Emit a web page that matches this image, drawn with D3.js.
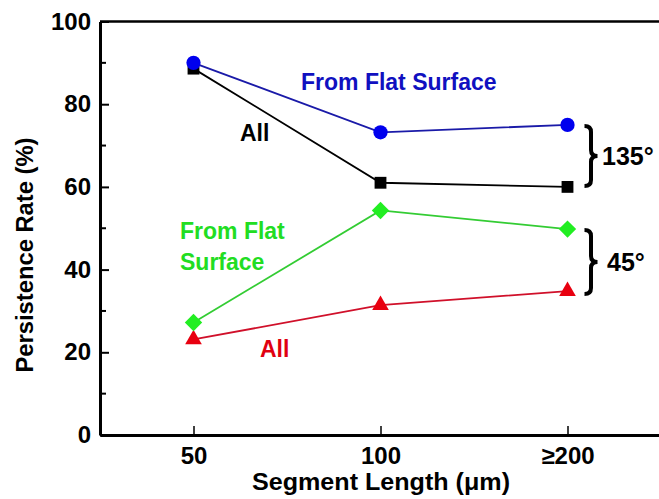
<!DOCTYPE html>
<html>
<head>
<meta charset="utf-8">
<script src="https://cdn.jsdelivr.net/npm/d3@7"></script>
<style>
  body { margin: 0; background: #fff; }
  svg { display: block; font-family: "Liberation Sans", Arial, sans-serif; font-weight: bold; }
</style>
</head>
<body>
<div id="chart"></div>
<script>
// categories on the x axis
var categories = ["50", "100", "\u2265200"];

// persistence rate (%) per series
var flat135 = [90.0, 73.2, 75.0];
var all135  = [88.6, 61.0, 60.0];
var flat45  = [27.2, 54.3, 49.8];
var all45   = [23.1, 31.4, 34.8];

var yTicks = [0, 20, 40, 60, 80, 100];
var yMinor = [10, 30, 50, 70, 90];

var width = 659, height = 499;
var margin = { top: 21.5, right: -2, bottom: 64, left: 100 };

var svg = d3.select("#chart").append("svg")
    .attr("width", width)
    .attr("height", height);

var x = d3.scaleLinear()
    .domain([0.5, categories.length + 0.5])
    .range([margin.left, width - margin.right]);

var y = d3.scaleLinear()
    .domain([0, 100])
    .range([height - margin.bottom, margin.top]);

// frame: top line
svg.append("line")
    .attr("x1", x.range()[0]).attr("x2", x.range()[1])
    .attr("y1", y(100)).attr("y2", y(100))
    .attr("stroke", "#000").attr("stroke-width", 2.5);

// y axis
var yAxis = svg.append("g")
    .attr("transform", "translate(" + margin.left + ",0)")
    .call(d3.axisLeft(y).tickValues(yTicks).tickSizeInner(-9).tickSizeOuter(0).tickPadding(9));
yAxis.select(".domain").attr("stroke-width", 3);
yAxis.selectAll(".tick line").attr("stroke-width", 2);
yAxis.selectAll(".tick text")
    .attr("font-size", 24).attr("font-weight", "bold")
    .attr("font-family", "Liberation Sans, Arial, sans-serif").attr("fill", "#000");

svg.append("g")
    .attr("transform", "translate(" + margin.left + ",0)")
    .selectAll("line").data(yMinor).enter().append("line")
    .attr("x1", 0).attr("x2", 6)
    .attr("y1", function (d) { return y(d); })
    .attr("y2", function (d) { return y(d); })
    .attr("stroke", "#000").attr("stroke-width", 2);

// x axis
var xAxis = svg.append("g")
    .attr("transform", "translate(0," + y(0) + ")")
    .call(d3.axisBottom(x)
        .tickValues(d3.range(1, categories.length + 1))
        .tickFormat(function (d) { return categories[d - 1]; })
        .tickSizeInner(-9).tickSizeOuter(0).tickPadding(12));
xAxis.select(".domain").attr("stroke-width", 3);
xAxis.selectAll(".tick line").attr("stroke-width", 1.5);
xAxis.selectAll(".tick text")
    .attr("font-size", 24).attr("font-weight", "bold")
    .attr("font-family", "Liberation Sans, Arial, sans-serif").attr("fill", "#000");

// axis titles
svg.append("text")
    .attr("transform", "translate(33," + 255 + ") rotate(-90)")
    .attr("text-anchor", "middle")
    .attr("font-size", 24)
    .attr("textLength", 235).attr("lengthAdjust", "spacingAndGlyphs")
    .text("Persistence Rate (%)");

svg.append("text")
    .attr("x", 381).attr("y", 490)
    .attr("text-anchor", "middle")
    .attr("font-size", 24)
    .attr("textLength", 258).attr("lengthAdjust", "spacingAndGlyphs")
    .text("Segment Length (\u03bcm)");

// series
var series = [
    { values: all45,   line: "#d0102a", fill: "#e80010", shape: d3.symbolTriangle, size: 120, rot: 0 },
    { values: flat45,  line: "#33cc33", fill: "#22ee22", shape: d3.symbolSquare,   size: 150, rot: 45 },
    { values: all135,  line: "#000000", fill: "#000000", shape: d3.symbolSquare,   size: 140, rot: 0 },
    { values: flat135, line: "#1a1aa8", fill: "#0000ee", shape: d3.symbolCircle,   size: 160, rot: 0 }
];

var line = d3.line()
    .x(function (d, i) { return x(i + 1); })
    .y(function (d) { return y(d); });

series.forEach(function (s) {
    svg.append("path")
        .datum(s.values)
        .attr("d", line)
        .attr("fill", "none")
        .attr("stroke", s.line)
        .attr("stroke-width", 1.8);
    svg.selectAll(null).data(s.values).enter().append("path")
        .attr("transform", function (d, i) {
            return "translate(" + x(i + 1) + "," + y(d) + ") rotate(" + s.rot + ")";
        })
        .attr("d", d3.symbol().type(s.shape).size(s.size))
        .attr("fill", s.fill);
});

// series labels
svg.append("text").attr("x", 301).attr("y", 90).attr("font-size", 23)
    .attr("fill", "#1010c0").text("From Flat Surface");
svg.append("text").attr("x", 240).attr("y", 141).attr("font-size", 23)
    .attr("fill", "#000").text("All");
svg.append("text").attr("x", 180).attr("y", 239).attr("font-size", 23)
    .attr("fill", "#22dd22").text("From Flat");
svg.append("text").attr("x", 180).attr("y", 270).attr("font-size", 23)
    .attr("fill", "#22dd22").text("Surface");
svg.append("text").attr("x", 260).attr("y", 357).attr("font-size", 23)
    .attr("fill", "#e00010").text("All");

// braces grouping series at the last category
function brace(yTop, yBot, label, labelX) {
    var x0 = x(categories.length) + 17, w = 13;
    var x1 = x0 + w * 0.5, x2 = x0 + w, ym = (yTop + yBot) / 2, q = 6;
    var d = "M" + x0 + "," + yTop +
        " Q" + x1 + "," + yTop + " " + x1 + "," + (yTop + q) +
        " L" + x1 + "," + (ym - q) +
        " Q" + x1 + "," + ym + " " + x2 + "," + ym +
        " Q" + x1 + "," + ym + " " + x1 + "," + (ym + q) +
        " L" + x1 + "," + (yBot - q) +
        " Q" + x1 + "," + yBot + " " + x0 + "," + yBot;
    svg.append("path").attr("d", d).attr("fill", "none")
        .attr("stroke", "#000").attr("stroke-width", 4);
    svg.append("text").attr("x", labelX).attr("y", ym + 9)
        .attr("font-size", 25).attr("fill", "#000").text(label);
}
var n = categories.length - 1;
brace(y(flat135[n]) + 1, y(all135[n]) - 1, "135\u00b0", 602);
brace(y(flat45[n]) + 1, y(all45[n]) + 3, "45\u00b0", 607);
</script>
</body>
</html>
